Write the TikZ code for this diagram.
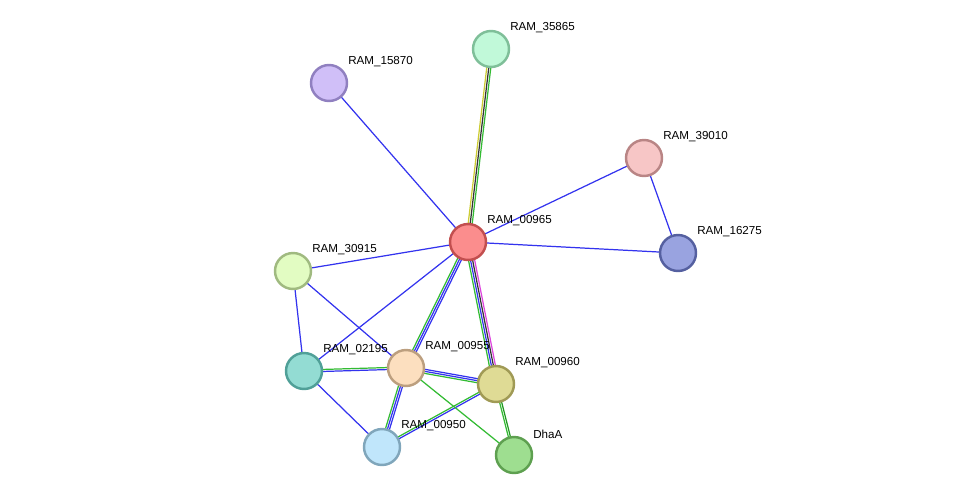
\documentclass[tikz,border=0pt]{standalone}
\usepackage{fontspec}
\setmainfont{Liberation Sans}
\usetikzlibrary{calc}
\definecolor{eb}{HTML}{3333EE}
\definecolor{eg}{HTML}{33BB33}
\definecolor{ey}{HTML}{CCCC33}
\definecolor{ek}{HTML}{333333}
\definecolor{em}{HTML}{DD44DD}
\definecolor{edg}{HTML}{229922}
\newcommand{\medge}[3]{%
  \foreach \c [count=\i] in {#3} {\xdef\nn{\i}}%
  \foreach \c [count=\i] in {#3} {%
    \pgfmathsetmacro{\off}{(\i-(\nn+1)/2)*1.15}%
    \draw[edge,\c] ($(#1)!\off pt!90:(#2)$) -- ($(#2)!\off pt!-90:(#1)$);}}
\tikzset{
  edge/.style={line width=0.7pt},
  prot/.style={circle,minimum size=0.72cm,inner sep=0pt,line width=1.4pt},
  lbl/.style={anchor=west,font=\fontsize{6.6}{8}\selectfont,inner sep=0pt}
}
\begin{document}
\begin{tikzpicture}[x=0.02cm,y=-0.02cm]
\useasboundingbox (0,0) rectangle (976,501);
\coordinate (c35865) at (491,49);
\coordinate (c15870) at (329,83);
\coordinate (c39010) at (644,158);
\coordinate (c00965) at (468,242);
\coordinate (c16275) at (678,253);
\coordinate (c30915) at (293,271);
\coordinate (c02195) at (304,371);
\coordinate (c00955) at (406,368);
\coordinate (c00960) at (496,384);
\coordinate (c00950) at (382,447);
\coordinate (cDhaA) at (514,455);
% edges
\medge{c00965}{c35865}{eg,ek,ey}
\medge{c00965}{c00955}{eg,eb,eb}
\medge{c00965}{c00960}{eg,eb,ek,em}
\medge{c02195}{c00955}{eb,eg}
\medge{c00955}{c00960}{eg,eb,eb}
\medge{c00955}{c00950}{eg,eb,eb}
\medge{c00960}{c00950}{eg,eb}
\medge{c00960}{cDhaA}{eg,edg}
\medge{c00955}{cDhaA}{eg}
\foreach \a/\b in {c15870/c00965,c39010/c00965,c39010/c16275,c00965/c16275,c30915/c00965,c30915/c02195,c30915/c00955,c02195/c00965,c02195/c00950}
  \draw[edge,eb] (\a) -- (\b);
% nodes
\foreach \n/\t/\f/\d in {35865/RAM\_35865/C1F9D9/7FBF99, 15870/RAM\_15870/D0BFF8/9080C0, 39010/RAM\_39010/F7C6C6/B98585, 00965/RAM\_00965/FB8D8D/C24F4F, 16275/RAM\_16275/99A3E0/5560A0, 30915/RAM\_30915/E2FCC2/A0BA80, 02195/RAM\_02195/93DCD3/50A098, 00955/RAM\_00955/FCDFBF/BC9F7F, 00960/RAM\_00960/DFDB95/A09A55, 00950/RAM\_00950/C0E6FB/80A6BB, DhaA/DhaA/9EDE90/5EA050} {
  \definecolor{fc}{HTML}{\f}\definecolor{dc}{HTML}{\d}
  \node[prot,fill=fc,draw=dc] (n\n) at (c\n) {};
  \node[lbl] (l\n) at ($(c\n)+(19,-21)$) {\t};
}
\end{tikzpicture}
\end{document}
